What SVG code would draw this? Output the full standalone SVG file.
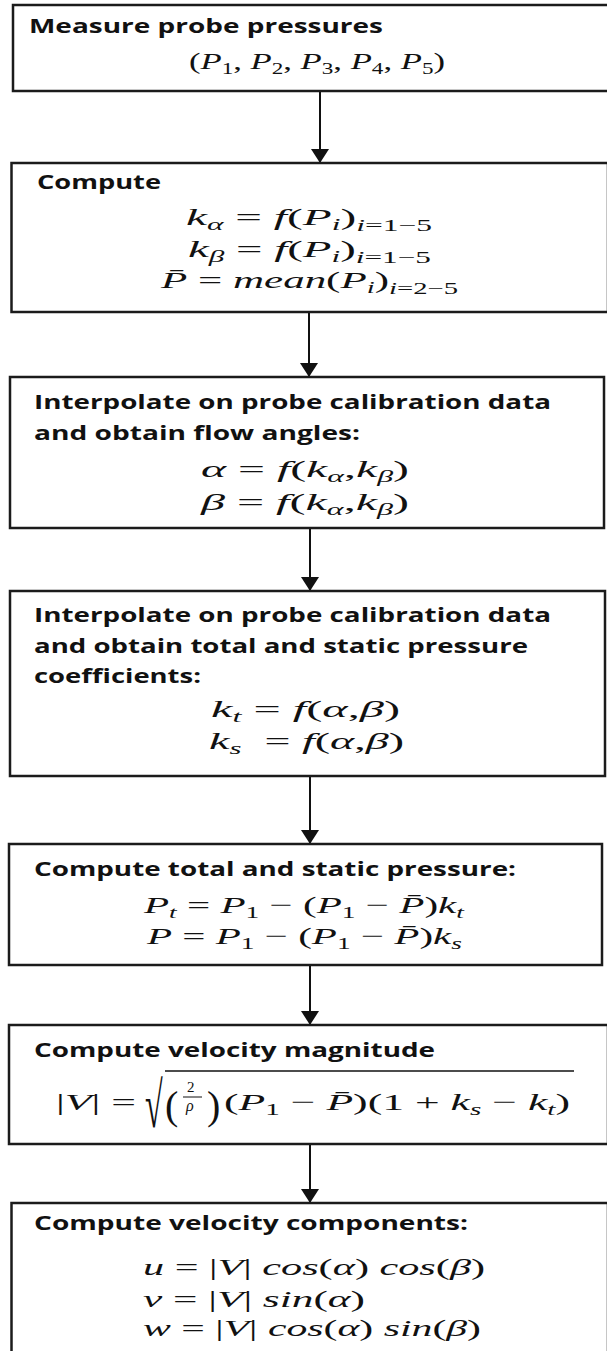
<svg xmlns="http://www.w3.org/2000/svg" width="607" height="1351" viewBox="0 0 607 1351">
<style>
.box{fill:#fff;stroke:#1b1b1b;stroke-width:2.5}
.t{font-family:"Open Sans","Liberation Sans",sans-serif;font-weight:700;font-size:19px;fill:#111}
.m{font-family:"Liberation Serif","DejaVu Serif",serif;font-size:24px;fill:#111}
.i{font-style:italic}
.s{font-size:16px}
.conn line{stroke:#111;stroke-width:2}
</style>
<defs>
<marker id="ah" markerUnits="userSpaceOnUse" markerWidth="14" markerHeight="18" refX="14" refY="9" orient="auto"><path d="M0,0 L14,9 L0,18 Z" fill="#111"/></marker>
</defs>
<rect x="0" y="0" width="607" height="1351" fill="#fff"/>
<g id="connectors" class="conn">
<line x1="320" y1="92" x2="320" y2="163" marker-end="url(#ah)"/>
<line x1="309" y1="313" x2="309" y2="377" marker-end="url(#ah)"/>
<line x1="310" y1="529" x2="310" y2="591" marker-end="url(#ah)"/>
<line x1="310" y1="777" x2="310" y2="844" marker-end="url(#ah)"/>
<line x1="310" y1="966" x2="310" y2="1025" marker-end="url(#ah)"/>
<line x1="310" y1="1145" x2="310" y2="1203" marker-end="url(#ah)"/>
</g>
<g id="n1">
<rect class="box" x="13" y="5" width="600" height="86"/>
<text class="t" x="29" y="33" textLength="354" lengthAdjust="spacingAndGlyphs">Measure probe pressures</text>
<text class="m" x="189" y="69" textLength="256" lengthAdjust="spacingAndGlyphs">(<tspan class="i">P</tspan><tspan class="s" dy="5">1</tspan><tspan dy="-5">, </tspan><tspan class="i">P</tspan><tspan class="s" dy="5">2</tspan><tspan dy="-5">, </tspan><tspan class="i">P</tspan><tspan class="s" dy="5">3</tspan><tspan dy="-5">, </tspan><tspan class="i">P</tspan><tspan class="s" dy="5">4</tspan><tspan dy="-5">, </tspan><tspan class="i">P</tspan><tspan class="s" dy="5">5</tspan><tspan dy="-5">)</tspan></text>
</g>
<g id="n2">
<rect class="box" x="11.5" y="163" width="596.5" height="149"/>
<text class="t" x="37" y="189" textLength="124" lengthAdjust="spacingAndGlyphs">Compute</text>
<text class="m" x="186" y="225" textLength="246" lengthAdjust="spacingAndGlyphs"><tspan class="i">k</tspan><tspan class="s i" dy="5">α</tspan><tspan dy="-5"> = </tspan><tspan class="i">f</tspan>(<tspan class="i">P</tspan><tspan class="s i" dy="5">i</tspan><tspan dy="-5">)</tspan><tspan class="s" dy="6"><tspan class="i">i</tspan>=1−5</tspan></text>
<text class="m" x="188" y="257" textLength="243" lengthAdjust="spacingAndGlyphs"><tspan class="i">k</tspan><tspan class="s i" dy="5">β</tspan><tspan dy="-5"> = </tspan><tspan class="i">f</tspan>(<tspan class="i">P</tspan><tspan class="s i" dy="5">i</tspan><tspan dy="-5">)</tspan><tspan class="s" dy="6"><tspan class="i">i</tspan>=1−5</tspan></text>
<text class="m" x="161" y="288" textLength="297" lengthAdjust="spacingAndGlyphs"><tspan class="i">P̄</tspan> = <tspan class="i">mean</tspan>(<tspan class="i">P</tspan><tspan class="s i" dy="5">i</tspan><tspan dy="-5">)</tspan><tspan class="s" dy="6"><tspan class="i">i</tspan>=2−5</tspan></text>
</g>
<g id="n3">
<rect class="box" x="10" y="377" width="594" height="151"/>
<text class="t" x="34" y="409" textLength="517" lengthAdjust="spacingAndGlyphs">Interpolate on probe calibration data</text>
<text class="t" x="34" y="440" textLength="326" lengthAdjust="spacingAndGlyphs">and obtain flow angles:</text>
<text class="m" x="201" y="477" textLength="208" lengthAdjust="spacingAndGlyphs"><tspan class="i">α</tspan> = <tspan class="i">f</tspan>(<tspan class="i">k</tspan><tspan class="s i" dy="5">α</tspan><tspan dy="-5">,</tspan><tspan class="i">k</tspan><tspan class="s i" dy="5">β</tspan><tspan dy="-5">)</tspan></text>
<text class="m" x="201" y="510" textLength="208" lengthAdjust="spacingAndGlyphs"><tspan class="i">β</tspan> = <tspan class="i">f</tspan>(<tspan class="i">k</tspan><tspan class="s i" dy="5">α</tspan><tspan dy="-5">,</tspan><tspan class="i">k</tspan><tspan class="s i" dy="5">β</tspan><tspan dy="-5">)</tspan></text>
</g>
<g id="n4">
<rect class="box" x="10" y="591" width="595" height="185"/>
<text class="t" x="34" y="622" textLength="517" lengthAdjust="spacingAndGlyphs">Interpolate on probe calibration data</text>
<text class="t" x="34" y="653" textLength="494" lengthAdjust="spacingAndGlyphs">and obtain total and static pressure</text>
<text class="t" x="34" y="683" textLength="167" lengthAdjust="spacingAndGlyphs">coefficients:</text>
<text class="m" x="211" y="717" textLength="189" lengthAdjust="spacingAndGlyphs"><tspan class="i">k</tspan><tspan class="s i" dy="5">t</tspan><tspan dy="-5"> = </tspan><tspan class="i">f</tspan>(<tspan class="i">α</tspan>,<tspan class="i">β</tspan>)</text>
<text class="m" x="209" y="749" textLength="195" lengthAdjust="spacingAndGlyphs" xml:space="preserve"><tspan class="i">k</tspan><tspan class="s i" dy="5">s</tspan><tspan dy="-5">  = </tspan><tspan class="i">f</tspan>(<tspan class="i">α</tspan>,<tspan class="i">β</tspan>)</text>
</g>
<g id="n5">
<rect class="box" x="9" y="844" width="593" height="121"/>
<text class="t" x="34" y="876" textLength="482" lengthAdjust="spacingAndGlyphs">Compute total and static pressure:</text>
<text class="m" x="144" y="913" textLength="320" lengthAdjust="spacingAndGlyphs"><tspan class="i">P</tspan><tspan class="s i" dy="5">t</tspan><tspan dy="-5"> = </tspan><tspan class="i">P</tspan><tspan class="s" dy="5">1</tspan><tspan dy="-5"> − (</tspan><tspan class="i">P</tspan><tspan class="s" dy="5">1</tspan><tspan dy="-5"> − </tspan><tspan class="i">P̄</tspan>)<tspan class="i">k</tspan><tspan class="s i" dy="5">t</tspan></text>
<text class="m" x="147" y="944" textLength="315" lengthAdjust="spacingAndGlyphs"><tspan class="i">P</tspan> = <tspan class="i">P</tspan><tspan class="s" dy="5">1</tspan><tspan dy="-5"> − (</tspan><tspan class="i">P</tspan><tspan class="s" dy="5">1</tspan><tspan dy="-5"> − </tspan><tspan class="i">P̄</tspan>)<tspan class="i">k</tspan><tspan class="s i" dy="5">s</tspan></text>
</g>
<g id="n6">
<rect class="box" x="9" y="1025" width="599" height="119"/>
<text class="t" x="34" y="1057" textLength="401" lengthAdjust="spacingAndGlyphs">Compute velocity magnitude</text>
<text class="m" x="56" y="1110" textLength="80" lengthAdjust="spacingAndGlyphs">|<tspan class="i">V</tspan>| =</text>
<text class="m" style="font-size:46px" transform="translate(145,1127) scale(0.7,1.4)" x="0" y="0">√</text>
<line x1="165" y1="1071" x2="574" y2="1071" stroke="#111" stroke-width="1.6"/>
<text class="m" style="font-size:40px" x="165" y="1119">(</text>
<text class="m" style="font-size:40px" x="207" y="1119">)</text>
<text class="m" style="font-size:15px" x="187" y="1092">2</text>
<line x1="183" y1="1097" x2="202" y2="1097" stroke="#111" stroke-width="1"/>
<text class="m i" style="font-size:16px" x="186" y="1111">ρ</text>
<text class="m" x="224" y="1110" textLength="346" lengthAdjust="spacingAndGlyphs">(<tspan class="i">P</tspan><tspan class="s" dy="5">1</tspan><tspan dy="-5"> − </tspan><tspan class="i">P̄</tspan>)(1 + <tspan class="i">k</tspan><tspan class="s i" dy="5">s</tspan><tspan dy="-5"> − </tspan><tspan class="i">k</tspan><tspan class="s i" dy="5">t</tspan><tspan dy="-5">)</tspan></text>
</g>
<g id="n7">
<rect class="box" x="11.5" y="1203" width="596.5" height="160"/>
<text class="t" x="34" y="1230" textLength="434" lengthAdjust="spacingAndGlyphs">Compute velocity components:</text>
<text class="m" x="143" y="1275" textLength="342" lengthAdjust="spacingAndGlyphs"><tspan class="i">u</tspan> = |<tspan class="i">V</tspan>| <tspan class="i">cos</tspan>(<tspan class="i">α</tspan>) <tspan class="i">cos</tspan>(<tspan class="i">β</tspan>)</text>
<text class="m" x="143" y="1307" textLength="222" lengthAdjust="spacingAndGlyphs"><tspan class="i">v</tspan> = |<tspan class="i">V</tspan>| <tspan class="i">sin</tspan>(<tspan class="i">α</tspan>)</text>
<text class="m" x="143" y="1336" textLength="338" lengthAdjust="spacingAndGlyphs"><tspan class="i">w</tspan> = |<tspan class="i">V</tspan>| <tspan class="i">cos</tspan>(<tspan class="i">α</tspan>) <tspan class="i">sin</tspan>(<tspan class="i">β</tspan>)</text>
</g>
</svg>
